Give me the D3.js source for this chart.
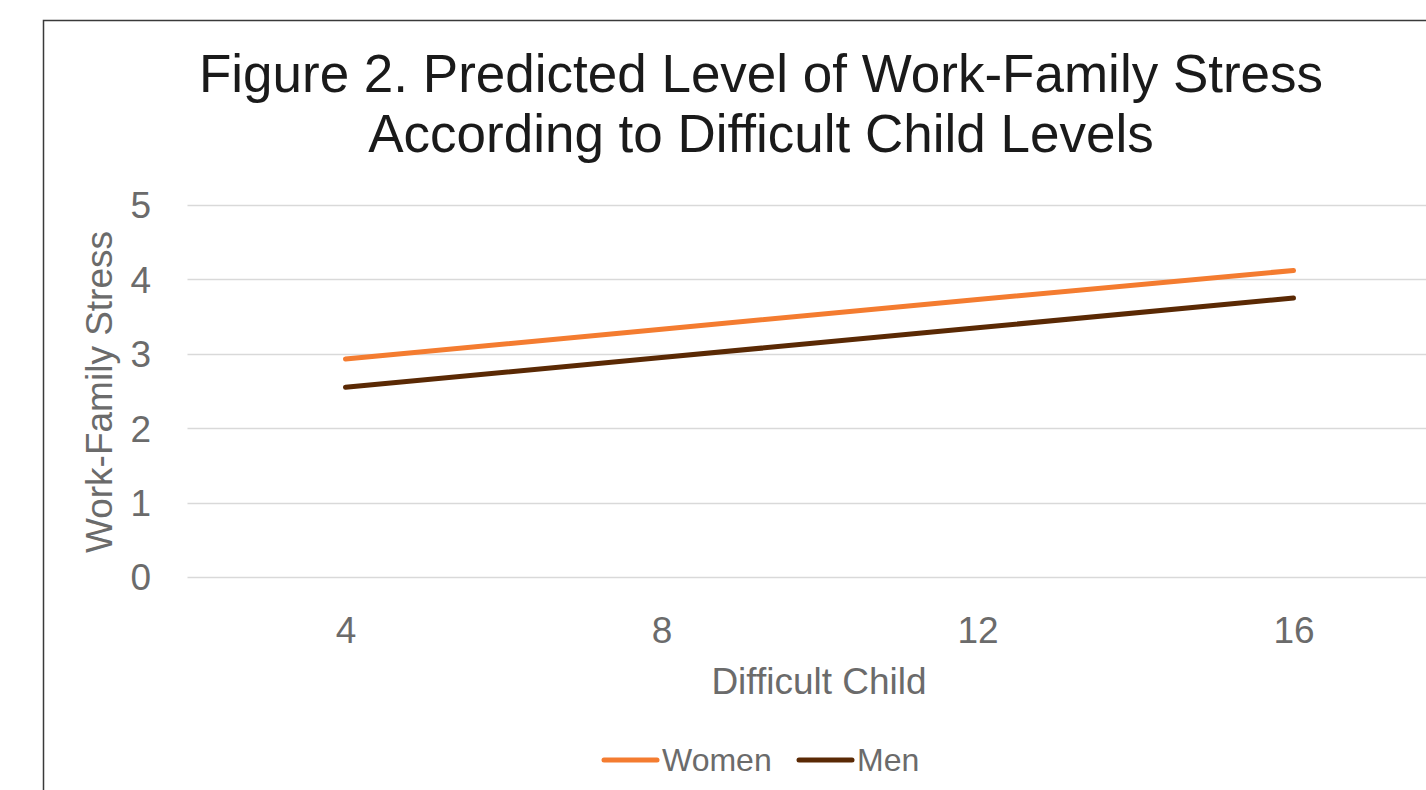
<!DOCTYPE html>
<html>
<head>
<meta charset="utf-8">
<script src="https://cdn.jsdelivr.net/npm/d3@7"></script>
<style>
  html, body { margin: 0; padding: 0; background: #fff; overflow: hidden; }
  svg { display: block; font-family: "Liberation Sans", Arial, sans-serif; }
</style>
</head>
<body>
<script>
// data
const categories = [4, 8, 12, 16];
const women = [2.93, 3.33, 3.73, 4.12];
const men = [2.55, 2.95, 3.35, 3.75];
const yTicks = [0, 1, 2, 3, 4, 5];
const seriesNames = ['Women', 'Men'];
const titleLines = ['Figure 2. Predicted Level of Work-Family Stress', 'According to Difficult Child Levels'];

const W = 1426, H = 790;
const colors = { Women: '#F47C30', Men: '#5A2904' };
const series = [
    { name: 'Women', values: women },
    { name: 'Men', values: men },
];

const svg = d3.select('body').append('svg')
    .attr('width', W)
    .attr('height', H);

// chart frame (runs off the right and bottom edges)
svg.append('rect')
    .attr('x', 43.5).attr('y', 20.5)
    .attr('width', 1500).attr('height', 900)
    .attr('fill', '#fff')
    .attr('stroke', '#3a3a3a')
    .attr('stroke-width', 1.5);

// title
svg.append('text')
    .attr('text-anchor', 'middle')
    .attr('font-size', 53)
    .attr('fill', '#1a1a1a')
    .selectAll('tspan')
    .data(titleLines)
    .join('tspan')
    .attr('x', 761)
    .attr('y', (d, i) => 92 + i * 60)
    .text(d => d);

const plotLeft = 187.5;
const x = d3.scalePoint()
    .domain(categories)
    .range([plotLeft, plotLeft + 4 * 316])
    .padding(0.5);

const y = d3.scaleLinear()
    .domain([0, 5])
    .range([577, 205]);

// gridlines
svg.append('g')
    .selectAll('line')
    .data(yTicks)
    .join('line')
    .attr('x1', plotLeft)
    .attr('x2', plotLeft + 4 * 316)
    .attr('y1', d => Math.round(y(d)) + 0.5)
    .attr('y2', d => Math.round(y(d)) + 0.5)
    .attr('stroke', '#d9d9d9')
    .attr('stroke-width', 1.5);

// y axis labels
const yAxis = d3.axisLeft(y).tickValues(yTicks).tickFormat(d3.format('d')).tickSize(0).tickPadding(0);
const yAxisGroup = svg.append('g')
    .attr('transform', 'translate(151, 0)')
    .call(yAxis);
yAxisGroup.select('.domain').remove();
yAxisGroup.selectAll('text')
    .attr('font-size', 37)
    .attr('font-family', '"Liberation Sans", Arial, sans-serif')
    .attr('fill', '#6b6b6b')
    .attr('dy', '0.35em');

// x axis labels
const xAxis = d3.axisBottom(x).tickSize(0).tickPadding(0);
const xAxisGroup = svg.append('g')
    .attr('transform', 'translate(0, 643)')
    .call(xAxis);
xAxisGroup.select('.domain').remove();
xAxisGroup.selectAll('text')
    .attr('font-size', 37)
    .attr('font-family', '"Liberation Sans", Arial, sans-serif')
    .attr('fill', '#6b6b6b')
    .attr('dy', 0);

// axis titles
svg.append('text')
    .attr('x', 819).attr('y', 694)
    .attr('text-anchor', 'middle')
    .attr('font-size', 37)
    .attr('fill', '#6b6b6b')
    .text('Difficult Child');

svg.append('text')
    .attr('transform', 'translate(112, 392) rotate(-90)')
    .attr('text-anchor', 'middle')
    .attr('font-size', 37)
    .attr('fill', '#6b6b6b')
    .text('Work-Family Stress');

// lines
const line = d3.line()
    .x((d, i) => x(categories[i]))
    .y(d => y(d));

svg.append('g')
    .selectAll('path')
    .data(series)
    .join('path')
    .attr('d', d => line(d.values))
    .attr('fill', 'none')
    .attr('stroke', d => colors[d.name])
    .attr('stroke-width', 5)
    .attr('stroke-linecap', 'round');

// legend
const legendX = [604, 799];
const legend = svg.append('g')
    .selectAll('g')
    .data(seriesNames)
    .join('g')
    .attr('transform', (d, i) => `translate(${legendX[i]}, 760)`);
legend.append('line')
    .attr('x1', 0).attr('x2', 53)
    .attr('stroke', d => colors[d])
    .attr('stroke-width', 5)
    .attr('stroke-linecap', 'round');
legend.append('text')
    .attr('x', 58).attr('y', 11)
    .attr('font-size', 32)
    .attr('fill', '#6b6b6b')
    .text(d => d);
</script>
</body>
</html>
